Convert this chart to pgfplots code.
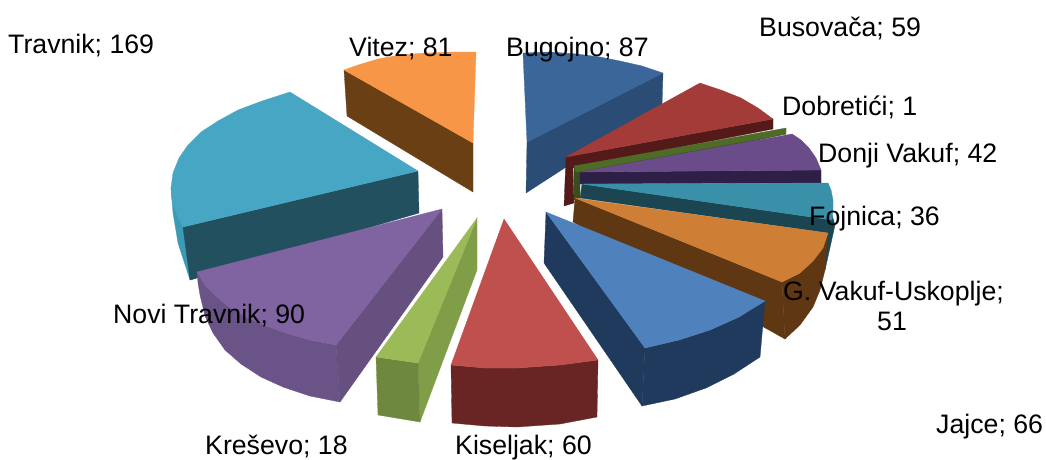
\documentclass[border=0pt]{standalone}
\usepackage{fontspec}
\setmainfont{Liberation Sans}
\usepackage{pgfplots}
\pgfplotsset{compat=1.18}
% one filled face of the pie, in picture pixels
\newcommand{\face}[2]{\addplot[fill=#1,draw=#1,line width=0.3pt] coordinates {#2} -- cycle;}
\newcommand{\lab}[3]{\node[anchor=base west,inner sep=0pt,font=\fontsize{26.7}{30}\selectfont] at (axis cs:#1,#2) {#3};}
\definecolor{vitT}{HTML}{F79646}\definecolor{vitW}{HTML}{6B3F14}
\definecolor{traT}{HTML}{47A6C3}\definecolor{traW}{HTML}{22505F}\definecolor{traO}{HTML}{3C9AB5}
\definecolor{bugT}{HTML}{3A6699}\definecolor{bugW}{HTML}{2B4C74}
\definecolor{busT}{HTML}{A33B38}\definecolor{busW}{HTML}{541A1A}
\definecolor{dobT}{HTML}{4F6B28}\definecolor{dobW}{HTML}{3A4D1C}
\definecolor{donT}{HTML}{6A4C8A}\definecolor{donW}{HTML}{2E1F47}
\definecolor{fojT}{HTML}{3A90A8}\definecolor{fojW}{HTML}{1B4550}
\definecolor{gvaT}{HTML}{CF7F35}\definecolor{gvaW}{HTML}{5F3712}
\definecolor{jajT}{HTML}{4F81BD}\definecolor{jajW}{HTML}{1F3A5C}
\definecolor{kisT}{HTML}{C0504D}\definecolor{kisW}{HTML}{692523}
\definecolor{kreT}{HTML}{9BBB59}\definecolor{kreW}{HTML}{7F9E47}\definecolor{kreF}{HTML}{6E883E}
\definecolor{novT}{HTML}{8064A2}\definecolor{novW}{HTML}{65507F}\definecolor{novO}{HTML}{6A5386}
\begin{document}
\begin{tikzpicture}
\useasboundingbox (0,0) rectangle (1046pt,459pt);
\begin{axis}[
    at={(0,0)},anchor=south west,
    scale only axis,width=1046pt,height=459pt,
    xmin=0,xmax=1046,ymin=0,ymax=459,
    y dir=reverse,
    hide axis,clip=false,
]
% Vitez
\face{vitW}{(344,70) (473,143) (473,192) (347,116)}
\face{vitT}{(344,70) (358,65) (378,59) (400,55) (425,53) (450,52) (476,52) (473,143)}
% Travnik
\face{traO}{(171,188) (173,213) (178,243) (190,280) (196,278) (183,227)}
\face{traW}{(183,227) (418,171) (419,213) (190,280)}
\face{traT}{(290,92) (262,101) (238,110) (218,121) (201,132) (188,145) (179,158) (173,173) (171,188) (172,200) (176,213) (183,227) (418,171)}
% Bugojno
\face{bugW}{(527,142) (663,73) (662,105) (526,193)}
\face{bugT}{(523,53) (550,52) (577,54) (600,57) (620,61) (642,66) (663,73) (527,142)}
% Busovaca
\face{busW}{(566,157) (573,168) (574,203) (564,206)}
\face{busW}{(566,157) (773,119) (773,129) (573,168)}
\face{busT}{(566,157) (700,83) (721,90) (741,98) (758,108) (773,119)}
% Dobretici
\face{dobW}{(574,166) (786,134) (580,178) (580,198) (574,200)}
\face{dobT}{(574,166) (786,128) (786,134) (576,172)}
% Donji Vakuf
\face{donW}{(580,172) (821,170) (821,183) (580,184)}
\face{donT}{(580,172) (792,134) (801,140) (809,148) (816,158) (821,170)}
% Fojnica
\face{fojW}{(832,215) (835,225) (825,270) (820,240) (828,232)}
\face{fojW}{(582,184) (832,220) (828,233) (580,198)}
\face{fojT}{(582,184) (828,183) (831,190) (833,200) (833,210) (832,220)}
% G. Vakuf-Uskoplje
\face{gvaW}{(575,198) (782,282) (785,339) (760,325) (573,222)}
\face{gvaW}{(782,282) (800,273) (813,261) (823,248) (828,233) (825,270) (820,290) (813,307) (800,325) (785,339)}
\face{gvaT}{(575,198) (828,233) (823,248) (813,261) (800,273) (782,282)}
% Jajce
\face{jajW}{(546,212) (645,348) (642,406) (544,263)}
\face{jajW}{(645,348) (679,340) (710,330) (739,317) (765,301) (760,357) (734,374) (706,388) (675,399) (642,406)}
\face{jajT}{(546,212) (765,301) (739,317) (710,330) (679,340) (645,348)}
% Kiseljak
\face{kisW}{(451,365) (485,368) (517,368) (560,365) (598,360) (597,417) (560,424) (517,427) (485,426) (452,423)}
\face{kisT}{(504,219) (598,360) (560,365) (517,368) (485,368) (451,365)}
% Kresevo
\face{kreW}{(477,218) (418,363) (420,422) (477,270)}
\face{kreF}{(376,357) (418,363) (420,422) (378,415)}
\face{kreT}{(477,218) (418,363) (376,357)}
% Novi Travnik
\face{novO}{(197,272) (198,283) (200,295) (205,316) (213,333) (225,350) (241,364) (261,377) (283,387) (310,396) (340,402) (336,345) (310,340) (286,333) (264,325) (246,317) (229,307) (216,296) (205,285)}
\face{novW}{(442,209) (336,345) (340,402) (443,257)}
\face{novT}{(442,209) (197,272) (205,285) (216,296) (229,307) (246,317) (264,325) (286,333) (310,340) (336,345)}
% labels
\lab{8}{53}{Travnik; 169}
\lab{349}{56}{Vitez; 81}
\lab{506}{56}{Bugojno; 87}
\lab{759}{36}{Busova\v{c}a; 59}
\lab{782}{115}{Dobreti\'{c}i; 1}
\lab{818}{162}{Donji Vakuf; 42}
\lab{809}{225}{Fojnica; 36}
\lab{783}{300}{G. Vakuf-Uskoplje;}
\lab{877}{330}{51}
\lab{936}{433}{Jajce; 66}
\lab{455}{454}{Kiseljak; 60}
\lab{205}{454}{Kre\v{s}evo; 18}
\lab{113}{323}{Novi Travnik; 90}
\end{axis}
\end{tikzpicture}
\end{document}
